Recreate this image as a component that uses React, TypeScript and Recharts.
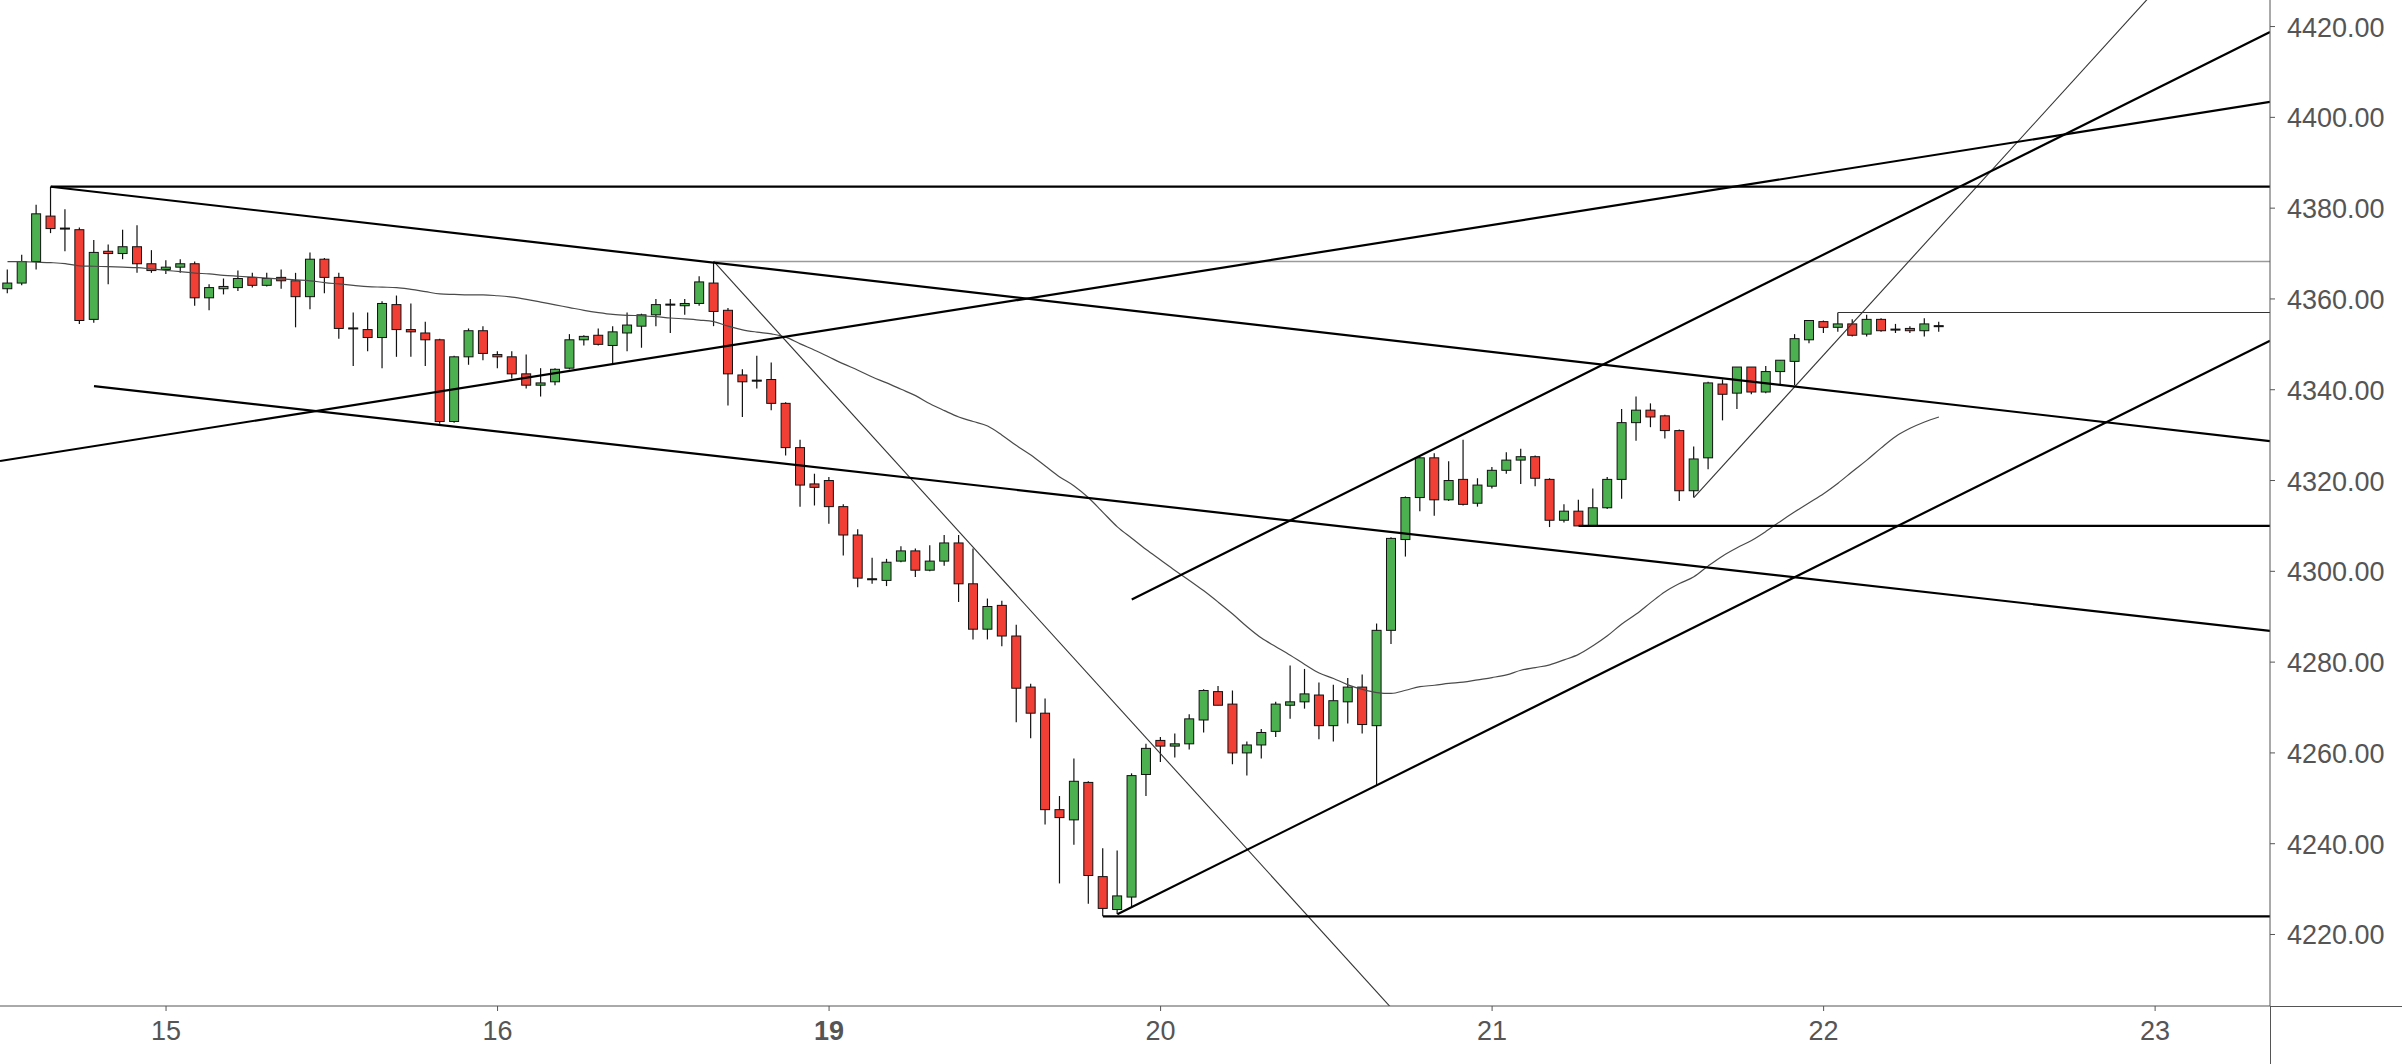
import React from "react";
import { ComposedChart, Bar, Line, XAxis, YAxis, ReferenceLine } from "recharts";

// ---------- DATA (hourly candles, index 0..134) ----------
const opens = [
  4362.25, 4363.5, 4368.25, 4378.25, 4375.5, 4375.25, 4355.5, 4370.5, 4370, 4371.5,
  4367.75, 4366.5, 4367, 4367.75, 4360.25, 4362.25, 4362.5, 4364.75, 4363, 4364.75,
  4364, 4360.5, 4368.75, 4364.75, 4353.5, 4353.25, 4351.5, 4358.75, 4353.25, 4352.5,
  4351, 4333, 4347.25, 4353, 4347.75, 4347.25, 4343.5, 4341, 4341.75, 4344.75,
  4351, 4352, 4349.75, 4352.5, 4354, 4356.5, 4358.75, 4358.5, 4359, 4363.5,
  4357.5, 4343.25, 4342, 4342.25, 4337, 4327.25, 4319.25, 4320, 4314.25, 4308,
  4298.25, 4298, 4302.25, 4304.5, 4300.25, 4302.25, 4306.25, 4297.25, 4287.25, 4292.5,
  4285.75, 4274.5, 4268.75, 4247.5, 4245.25, 4253.5, 4232.75, 4225.5, 4228.25, 4255.25,
  4262.75, 4261.5, 4262, 4267.25, 4273.5, 4270.75, 4260, 4261.75, 4264.75, 4270.5,
  4271.25, 4272.75, 4266, 4271.25, 4274.5, 4266, 4287, 4307, 4316.25, 4325,
  4315.75, 4320.25, 4315, 4318.75, 4322.25, 4324.5, 4325.25, 4320.25, 4311.25, 4313.25,
  4310, 4314, 4320.25, 4332.75, 4335.5, 4334.25, 4331, 4317.75, 4325, 4341.25,
  4339.25, 4345, 4339.5, 4344, 4346.25, 4351, 4355, 4353.75, 4354.5, 4352.25,
  4355.5, 4353.25, 4353.5, 4353, 4354,
];
const highs = [
  4366.5, 4369.75, 4380.75, 4384.75, 4379.75, 4375.75, 4373, 4372, 4375.25, 4376.25,
  4370.75, 4368.5, 4368.75, 4368.25, 4363.25, 4364.5, 4366.25, 4365.75, 4365.75, 4366.5,
  4365.75, 4370.25, 4369, 4365.75, 4357, 4357, 4359.5, 4360.75, 4359, 4355,
  4351.25, 4347.5, 4353.5, 4354, 4348.5, 4348.5, 4347.75, 4344.75, 4344.75, 4352.25,
  4352, 4353.5, 4354, 4357, 4356.75, 4360, 4360, 4360, 4365, 4368.25,
  4358, 4344.5, 4347.5, 4346, 4337.25, 4329, 4321.5, 4320.75, 4314.75, 4309.25,
  4303, 4302.75, 4305.5, 4305, 4305.75, 4308, 4308, 4305, 4294, 4293.5,
  4288.25, 4275.25, 4272, 4250.5, 4258.75, 4253.75, 4239, 4238.5, 4255.5, 4262,
  4263.5, 4264.25, 4268.5, 4274, 4274.75, 4273.75, 4262.5, 4265.25, 4271.25, 4279.25,
  4278.5, 4275.5, 4275, 4276.5, 4277.25, 4288.5, 4307.5, 4316.5, 4325.25, 4326,
  4324.25, 4329, 4320.5, 4323, 4326.25, 4327, 4325.5, 4320.5, 4314.75, 4315.75,
  4318.25, 4320.75, 4335.75, 4338.5, 4337, 4334.5, 4331.25, 4327.5, 4341.75, 4342.25,
  4345, 4345, 4345.25, 4346.5, 4352.25, 4355.25, 4355.25, 4357, 4355.5, 4356.5,
  4355.75, 4354.5, 4354, 4355.75, 4355,
];
const lows = [
  4361.25, 4363, 4366.5, 4374.5, 4370.5, 4354.5, 4354.75, 4363.25, 4368.75, 4365.75,
  4365.75, 4365.5, 4365.75, 4358.5, 4357.5, 4361, 4361.75, 4362.5, 4362.75, 4362.25,
  4353.75, 4357.75, 4361.25, 4351.25, 4345.25, 4348.5, 4344.75, 4347.25, 4347.25, 4345.25,
  4332.5, 4332.75, 4345.5, 4346.5, 4344.75, 4342.5, 4340.25, 4338.5, 4341, 4344.5,
  4349.75, 4349.75, 4345.75, 4348.5, 4349.25, 4354, 4352.5, 4356.5, 4358.5, 4354,
  4336.5, 4334, 4340.25, 4335.5, 4325.5, 4314.25, 4314.5, 4310.5, 4303.5, 4296.5,
  4297.25, 4296.75, 4302, 4298.75, 4300, 4301.25, 4293.25, 4285, 4285, 4283.5,
  4266.75, 4263.25, 4244.25, 4231.25, 4239.75, 4226.75, 4224, 4224.5, 4226, 4250.5,
  4258, 4259, 4260.75, 4264.5, 4270.5, 4257.5, 4255, 4258.75, 4263.5, 4267.5,
  4269.75, 4263, 4262.5, 4266.5, 4264.25, 4252.75, 4284, 4303.25, 4313.25, 4312.25,
  4315.5, 4314.5, 4314.25, 4318.25, 4321.5, 4319.25, 4318.75, 4309.75, 4310.75, 4310,
  4310, 4313.75, 4316, 4328.75, 4331.75, 4329.25, 4315.5, 4316.25, 4322.5, 4333.25,
  4335.75, 4339, 4339.25, 4341.25, 4341, 4350.25, 4352.5, 4352.75, 4351.75, 4351.75,
  4352.75, 4352.5, 4352.5, 4351.75, 4352.75,
];
const closes = [
  4363.5, 4368.25, 4378.75, 4375.5, 4375.5, 4355.25, 4370.25, 4370, 4371.5, 4367.75,
  4366.25, 4367, 4367.75, 4360.25, 4362.5, 4362.75, 4364.5, 4363, 4364.5, 4364,
  4360.5, 4368.75, 4364.75, 4353.5, 4353.5, 4351.5, 4359, 4353.25, 4352.75, 4351,
  4333, 4347.25, 4353, 4348, 4347.25, 4343.5, 4341, 4341.5, 4344.5, 4351,
  4351.75, 4350, 4352.75, 4354.25, 4356.5, 4358.75, 4358.75, 4359, 4363.75, 4357.25,
  4343.5, 4341.75, 4342, 4337, 4327.25, 4319, 4318.5, 4314.25, 4308, 4298.5,
  4298.25, 4302, 4304.5, 4300.25, 4302.25, 4306.25, 4297.25, 4287.25, 4292.25, 4285.75,
  4274.25, 4268.75, 4247.5, 4245.75, 4253.75, 4233, 4225.75, 4228.5, 4255, 4261,
  4261.5, 4262, 4267.5, 4273.75, 4270.5, 4260, 4261.75, 4264.5, 4270.75, 4271.25,
  4273, 4266, 4271.5, 4274.5, 4266.25, 4287, 4307.25, 4316.25, 4325, 4315.75,
  4320, 4314.75, 4319, 4322.25, 4324.5, 4325.25, 4320.5, 4311.25, 4313.25, 4310,
  4314, 4320.25, 4332.75, 4335.5, 4334, 4331, 4317.75, 4324.75, 4341.5, 4339,
  4345, 4339.5, 4344, 4346.5, 4351.25, 4355.25, 4353.75, 4354.5, 4352, 4355.5,
  4353, 4353.25, 4353, 4354.5, 4354,
];
// moving average
const maValues = [
  4368.2, 4368.2, 4368.1, 4368.0, 4367.8, 4367.3, 4367.2, 4367.1, 4367.0, 4366.9,
  4366.6, 4366.3, 4366.0, 4365.7, 4365.5, 4365.2, 4365.0, 4364.8, 4364.6, 4364.4,
  4364.2, 4364.0, 4363.6, 4363.3, 4363.0, 4362.7, 4362.6, 4362.5, 4362.1, 4361.6,
  4361.1, 4361.0, 4360.9, 4360.9, 4360.7, 4360.4, 4359.9, 4359.3, 4358.7, 4358.1,
  4357.5, 4357.0, 4356.6, 4356.4, 4356.3, 4356.1, 4355.8, 4355.6, 4355.35, 4355.0,
  4354.0, 4353.2, 4352.7, 4352.3, 4351.6, 4350.1, 4348.7, 4347.2, 4345.7, 4344.3,
  4342.8, 4341.5, 4340.1, 4338.7, 4336.9, 4335.4, 4334.0, 4333.0, 4332.0, 4330.0,
  4327.7, 4325.6, 4323.2, 4320.8, 4318.8, 4316.2, 4313.0, 4309.8, 4307.3, 4304.8,
  4302.5, 4300.2, 4298.0, 4295.7, 4293.2, 4290.6, 4287.8, 4285.3, 4283.4, 4281.5,
  4279.5, 4277.6, 4276.4, 4275.0, 4274.0, 4273.3, 4273.1, 4273.8, 4274.6, 4274.9,
  4275.3, 4275.6, 4276.1, 4276.6, 4277.2, 4278.2, 4278.8, 4279.4, 4280.5, 4281.7,
  4283.6, 4285.8, 4288.4, 4290.6, 4293.1, 4295.5, 4297.3, 4298.8, 4301.2, 4303.4,
  4305.2, 4306.8, 4308.8, 4311.0, 4313.1, 4315.1, 4317.1, 4319.4, 4322.0, 4324.5,
  4327.2, 4329.7, 4331.5, 4332.9, 4334.0,
];

const dayTickIndex = [11, 34, 57, 80, 103, 126, 149];
const dayTickLabels = ["15", "16", "19", "20", "21", "22", "23"];
const weekStartLabels = ["19"];
const priceTicks = [4220, 4240, 4260, 4280, 4300, 4320, 4340, 4360, 4380, 4400, 4420];

const X_START = -0.52;
const X_END = 156.97;
const Y_MIN = 4204.25;
const Y_MAX = 4425.85;

// drawn trend lines, endpoints in (candle index, price)
const thickLines: [number, number, number, number][] = [
  [3, 4384.72, X_END, 4384.72],
  [3, 4384.72, X_END, 4328.7],
  [X_START, 4324.3, X_END, 4403.4],
  [6, 4340.8, X_END, 4286.9],
  [78, 4293.8, X_END, 4418.8],
  [77, 4224.44, X_END, 4350.8],
  [76, 4224.0, X_END, 4224.0],
  [109, 4310.0, X_END, 4310.0],
];
const thinLines: [number, number, number, number][] = [
  [49, 4368.25, 100, 4189.85],
  [127, 4357.0, X_END, 4357.0],
  [117, 4316.25, 150, 4431.4],
];
const greyLines: [number, number, number, number][] = [
  [49, 4368.25, X_END, 4368.25],
];

const rows = opens.map((o, i) => ({
  i,
  o,
  h: highs[i],
  l: lows[i],
  c: closes[i],
  range: [lows[i], highs[i]],
  ma: maValues[i],
}));

const UP = "#4caf50";
const DOWN = "#f23f36";
const FONT = "'Liberation Sans', Arial, sans-serif";

const Candle = (props: any) => {
  const { x, y, width, height, payload } = props;
  if (!payload || x == null || y == null) return null;
  const { o, h, l, c } = payload;
  const top = Math.min(y, y + height);
  const hgt = Math.abs(height);
  const span = h - l;
  const ppu = span > 0 ? hgt / span : 0;
  const yO = top + (h - o) * ppu;
  const yC = top + (h - c) * ppu;
  let bTop = Math.min(yO, yC);
  let bBot = Math.max(yO, yC);
  if (bBot - bTop < 1) {
    const mid = (bTop + bBot) / 2;
    bTop = mid - 0.5;
    bBot = mid + 0.5;
  }
  const cx = x + width / 2;
  const fill = c > o ? UP : c < o ? DOWN : "#222";
  return (
    <g>
      <line x1={cx} x2={cx} y1={top} y2={top + hgt} stroke="#111" strokeWidth={1.2} />
      <rect
        x={x + 0.5}
        y={bTop}
        width={width - 1}
        height={bBot - bTop}
        fill={fill}
        stroke="#111"
        strokeWidth={1}
      />
    </g>
  );
};

const XTick = (props: any) => {
  const { x, y, payload } = props;
  const k = dayTickIndex.indexOf(payload.value);
  const label = k >= 0 ? dayTickLabels[k] : "";
  const bold = weekStartLabels.includes(label);
  return (
    <text
      x={x}
      y={y + 20}
      textAnchor="middle"
      dominantBaseline="central"
      fontSize={27}
      fontFamily={FONT}
      fontWeight={bold ? 700 : 400}
      fill="#555"
    >
      {label}
    </text>
  );
};

const YTick = (props: any) => {
  const { x, y, payload } = props;
  return (
    <text
      x={x + 12}
      y={y + 1}
      textAnchor="start"
      dominantBaseline="central"
      fontSize={27}
      fontFamily={FONT}
      fill="#555"
    >
      {Number(payload.value).toFixed(2)}
    </text>
  );
};

const seg = (s: [number, number, number, number]) => [
  { x: s[0], y: s[1] },
  { x: s[2], y: s[3] },
];

export default function App() {
  return (
    <div style={{ position: "absolute", left: 0, top: 0, width: 2402, height: 1064, background: "#fff", overflow: "hidden" }}>
      <ComposedChart
        width={2402}
        height={1064}
        data={rows}
        margin={{ top: 0, right: 0, bottom: 0, left: 0 }}
      >
        <XAxis
          dataKey="i"
          type="number"
          domain={[X_START, X_END]}
          allowDataOverflow
          ticks={dayTickIndex}
          interval={0}
          height={58}
          tickSize={5}
          tickMargin={0}
          stroke="#555"
          tick={<XTick />}
        />
        <YAxis
          orientation="right"
          type="number"
          domain={[Y_MIN, Y_MAX]}
          allowDataOverflow
          ticks={priceTicks}
          interval={0}
          width={132}
          tickSize={5}
          tickMargin={0}
          stroke="#555"
          tick={<YTick />}
        />
        <Line
          dataKey="ma"
          type="monotone"
          stroke="#4a4a4a"
          strokeWidth={1.2}
          dot={false}
          activeDot={false}
          isAnimationActive={false}
        />
        <Bar dataKey="range" barSize={10} shape={<Candle />} isAnimationActive={false} />
        {greyLines.map((s, k) => (
          <ReferenceLine key={"g" + k} segment={seg(s)} stroke="#9a9a9a" strokeWidth={1.3} ifOverflow="hidden" />
        ))}
        {thinLines.map((s, k) => (
          <ReferenceLine key={"t" + k} segment={seg(s)} stroke="#333" strokeWidth={1.1} ifOverflow="hidden" />
        ))}
        {thickLines.map((s, k) => (
          <ReferenceLine key={"b" + k} segment={seg(s)} stroke="#000" strokeWidth={2.2} ifOverflow="hidden" />
        ))}
      </ComposedChart>
      <div style={{ position: "absolute", left: 2270, top: 1005.5, width: 132, height: 1, background: "#555" }} />
      <div style={{ position: "absolute", left: 2269.5, top: 1006, width: 1, height: 58, background: "#555" }} />
    </div>
  );
}
